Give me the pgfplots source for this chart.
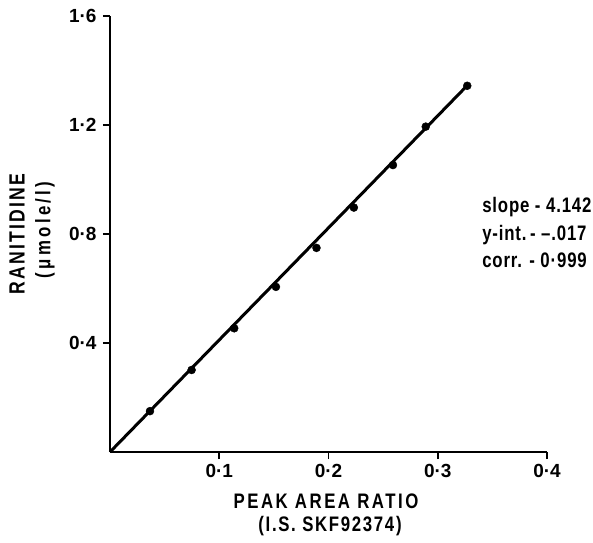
\documentclass[border=0pt]{standalone}
\usepackage{fontspec}
\setmainfont{Liberation Sans}
\newfontfamily\cond{Liberation Sans}[FakeStretch=0.8]
\usepackage{pgfplots}
\pgfplotsset{compat=1.18}
\newcommand\tk[1]{\mbox{\bfseries\fontsize{19}{21}\selectfont #1}}

\begin{document}
\begin{tikzpicture}[x=1pt,y=1pt]
\begin{axis}[
    at={(0,0)}, anchor=south west,
    scale only axis,
    width=437pt, height=436pt,
    xmin=0, xmax=0.4, ymin=0, ymax=1.6,
    axis lines*=left,
    axis line style={line width=2.2pt},
    tick style={line width=1.8pt, black},
    tick align=outside,
    major tick length=7pt,
    xtick={0.1,0.2,0.3,0.4},
    xticklabels={\tk{0·1},\tk{0·2},\tk{0·3},\tk{0·4}},
    ytick={0.4,0.8,1.2,1.6},
    yticklabels={\tk{0·4},\tk{0·8},\tk{1·2},\tk{1·6}},
    xticklabel style={yshift=-2pt},
    yticklabel style={xshift=-3pt},
    clip=false,
]
\addplot[black, line width=3pt] coordinates {(0,0) (0.327,1.345)};
\addplot[only marks, mark=*, mark size=4pt, black] coordinates {
    (0.0366,0.150) (0.0747,0.301) (0.1137,0.454) (0.1519,0.606)
    (0.189,0.749) (0.2232,0.897) (0.259,1.053) (0.289,1.194) (0.327,1.344)};
\node[anchor=west, align=left, font=\cond\bfseries\fontsize{21}{27.5}\selectfont]
    at (axis cs:0.3375,0.805) {\addfontfeature{LetterSpace=4}slope - 4.142\\
    \addfontfeature{LetterSpace=4}y-int.\,- –.017\\
    \addfontfeature{LetterSpace=4}corr. - 0·999};
\end{axis}
\node[rotate=90, font=\cond\bfseries\fontsize{22}{24}\selectfont] at (-93,218)
    {\addfontfeature{LetterSpace=10}RANITIDINE};
\node[rotate=90, font=\cond\bfseries\fontsize{21}{22}\selectfont] at (-65,222)
    {\addfontfeature{LetterSpace=16}(μmole/l)};
\node[font=\cond\bfseries\fontsize{21}{22}\selectfont] at (216,-49)
    {\addfontfeature{LetterSpace=12}PEAK AREA RATIO};
\node[font=\cond\bfseries\fontsize{21}{22}\selectfont] at (220,-74)
    {\addfontfeature{LetterSpace=8}(I.S. SKF92374)};
\pgfresetboundingbox
\path[use as bounding box] (-110,-90) rectangle (483,452);
\end{tikzpicture}
\end{document}
